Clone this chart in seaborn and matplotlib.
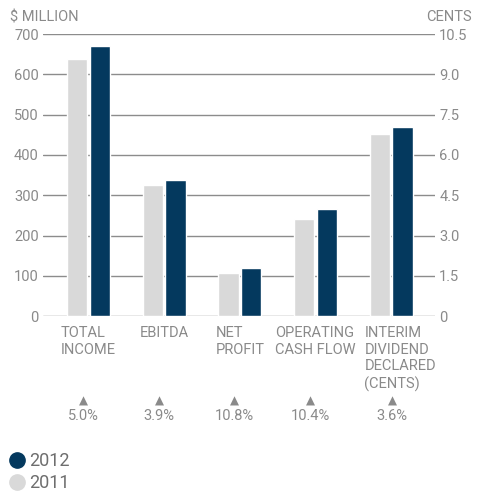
import numpy as np
import pandas as pd
import matplotlib
matplotlib.use("Agg")
import matplotlib.pyplot as plt
import matplotlib.transforms as mtrans
from matplotlib.lines import Line2D
import seaborn as sns

# data
categories = ["TOTAL\nINCOME", "EBITDA", "NET\nPROFIT", "OPERATING\nCASH FLOW",
              "INTERIM\nDIVIDEND\nDECLARED\n(CENTS)"]
years = ["2011", "2012"]
money_2011 = [637, 325, 106, 241]      # $ million
money_2012 = [670, 338, 119, 266]
dividend_2011 = 6.78                   # cents
dividend_2012 = 7.03
growth_labels = ["5.0%", "3.9%", "10.8%", "10.4%", "3.6%"]
left_ticks = [0, 100, 200, 300, 400, 500, 600, 700]
right_ticks = [0, 1.5, 3.0, 4.5, 6.0, 7.5, 9.0, 10.5]
right_tick_labels = ["0", "1.5", "3.0", "4.5", "6.0", "7.5", "9.0", "10.5"]

navy = "#04395E"
light = "#D9D9D9"
grey_txt = "#8A8A8A"
grid_col = "#8C8C8C"

df_money = pd.DataFrame({
    "category": categories[:4] * 2,
    "year": ["2011"] * 4 + ["2012"] * 4,
    "value": money_2011 + money_2012,
})
df_div = pd.DataFrame({
    "category": [categories[4]] * 2,
    "year": years,
    "value": [dividend_2011, dividend_2012],
})

sns.set_theme(style="white")
plt.rcParams["font.family"] = ["Roboto", "DejaVu Sans"]

fig = plt.figure(figsize=(4.84, 4.94), dpi=100)
ax = fig.add_axes([0.0888, 0.360, 0.810, 0.571])
ax2 = ax.twinx()

palette = {"2011": light, "2012": navy}
sns.barplot(data=df_money, x="category", y="value", hue="year", order=categories,
            hue_order=years, palette=palette, width=0.6, gap=0.1,
            saturation=1, legend=False, ax=ax)
sns.barplot(data=df_div, x="category", y="value", hue="year", order=categories,
            hue_order=years, palette=palette, width=0.6, gap=0.1,
            saturation=1, legend=False, ax=ax2)

ax.set_ylim(0, 700)
ax2.set_ylim(0, 10.5)
ax.set_xlim(-0.6, 4.58)
ax.set_yticks(left_ticks)
ax.set_yticklabels([str(t) for t in left_ticks])
ax2.set_yticks(right_ticks)
ax2.set_yticklabels(right_tick_labels)

for a in (ax, ax2):
    for s in a.spines.values():
        s.set_visible(False)
    a.set_xlabel("")
    a.set_ylabel("")
    a.tick_params(axis="y", length=0, labelsize=10.5, labelcolor=grey_txt, pad=3)
    a.grid(False)

# gridlines on the money axis, bars of both axes above them
ax.set_axisbelow(True)
ax.yaxis.grid(True, color=grid_col, linewidth=1)
ax.set_zorder(1)
ax.patch.set_visible(False)
ax2.set_zorder(2)
ax2.patch.set_visible(False)

ax.set_xticks(range(len(categories)))
ax.set_xticklabels(categories, fontsize=10.5, color=grey_txt, multialignment="left",
                   linespacing=1.25, va="top")
ax.tick_params(axis="x", length=0, pad=7)
ax2.tick_params(axis="x", length=0, labelbottom=False)
# the last label block sits a little right of its bars
last = ax.get_xticklabels()[-1]
last.set_transform(last.get_transform() + mtrans.ScaledTranslation(9 / 100, 0, fig.dpi_scale_trans))

ax.text(-0.084, 1.035, "$ MILLION", transform=ax.transAxes, fontsize=10.5,
        color=grey_txt, ha="left", va="bottom")
ax.text(1.094, 1.035, "CENTS", transform=ax.transAxes, fontsize=10.5,
        color=grey_txt, ha="right", va="bottom")

for i, g in enumerate(growth_labels):
    dx = 1 if i == len(growth_labels) - 1 else -5
    ax.annotate("\u25B2", xy=(i, 0), xycoords=("data", "axes fraction"),
                xytext=(dx, -85), textcoords="offset pixels", ha="center",
                va="center", fontsize=8.5, color=grey_txt,
                family=["DejaVu Sans"])
    ax.annotate(g, xy=(i, 0), xycoords=("data", "axes fraction"),
                xytext=(dx, -100), textcoords="offset pixels", ha="center",
                va="center", fontsize=10.5, color=grey_txt)

handles = [Line2D([], [], marker="o", linestyle="", markersize=11,
                  markerfacecolor=navy, markeredgecolor=navy, label="2012"),
           Line2D([], [], marker="o", linestyle="", markersize=11,
                  markerfacecolor=light, markeredgecolor=light, label="2011")]
leg = fig.legend(handles=handles, loc="lower left", bbox_to_anchor=(-0.01, -0.018),
                 frameon=False, fontsize=13, handletextpad=0.1,
                 handlelength=1.2, labelspacing=0.2, borderaxespad=0.2)
for t in leg.get_texts():
    t.set_color("#6E6E6E")

fig.savefig("out.png", dpi=100)
